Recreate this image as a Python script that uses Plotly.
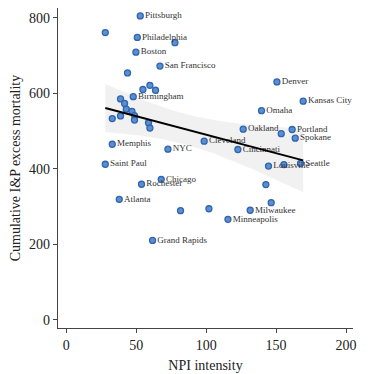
import numpy as np
import plotly.graph_objects as go

# NPI intensity vs cumulative I&P excess mortality
npi = [52.9, 27.9, 50.8, 77.7, 49.8, 67.0, 43.8, 59.8, 54.8, 63.8,
       47.9, 38.8, 41.7, 42.9, 47.0, 48.8, 38.8, 32.9, 48.8, 58.8,
       59.8, 32.9, 72.7, 27.9, 67.9, 53.8, 37.9, 81.7, 61.7, 150.6,
       169.4, 139.6, 126.5, 161.5, 153.7, 163.7, 98.6, 122.7, 144.6, 155.6,
       167.5, 142.7, 146.5, 131.5, 115.6, 102.0]
mortality = [805, 761, 748, 734, 709, 672, 654, 621, 610, 608,
             591, 585, 573, 558, 552, 541, 540, 533, 529, 522,
             508, 465, 452, 412, 372, 359, 319, 289, 210, 630,
             579, 554, 505, 504, 493, 481, 473, 451, 407, 411,
             414, 358, 310, 290, 266, 294]
city = ["Pittsburgh", "", "Philadelphia", "", "Boston", "San Francisco", "", "", "", "",
        "Birmingham", "", "", "", "", "", "", "", "", "",
        "", "Memphis", "NYC", "Saint Paul", "Chicago", "Rochester", "Atlanta", "", "Grand Rapids", "Denver",
        "Kansas City", "Omaha", "Oakland", "Portland", "", "Spokane", "Cleveland", "Cincinnati", "Louisville", "",
        "Seattle", "", "", "Milwaukee", "Minneapolis", ""]

FONT = "Liberation Serif"
AXIS_COLOR = "#444444"

# --- OLS fit with 95% confidence band ---
x = np.array(npi, dtype=float)
y = np.array(mortality, dtype=float)
slope, intercept = np.polyfit(x, y, 1)
xs = np.linspace(x.min(), x.max(), 100)
ys = intercept + slope * xs
n = len(x)
resid = y - (intercept + slope * x)
s = np.sqrt(np.sum(resid ** 2) / (n - 2))
se = s * np.sqrt(1 / n + (xs - x.mean()) ** 2 / np.sum((x - x.mean()) ** 2))
t_crit = 2.015
upper = ys + t_crit * se
lower = ys - t_crit * se

fig = go.Figure()
fig.add_trace(go.Scatter(x=np.concatenate([xs, xs[::-1]]), y=np.concatenate([upper, lower[::-1]]),
                         fill="toself", fillcolor="rgba(210,210,210,0.3)", line=dict(width=0),
                         hoverinfo="skip", showlegend=False))
fig.add_trace(go.Scatter(x=npi, y=mortality, mode="markers+text", text=city,
                         textposition="middle right",
                         textfont=dict(family=FONT, size=9, color="#333333"),
                         marker=dict(size=6, color="#5b8fd0", line=dict(color="#2f65b0", width=1.3)),
                         showlegend=False))
fig.add_trace(go.Scatter(x=xs, y=ys, mode="lines", line=dict(color="black", width=2), showlegend=False))

# page body adds an 8px margin, so the figure is sized to the visible area
fig.update_layout(
    width=366, height=366,
    margin=dict(l=50, r=21, t=0, b=46),
    plot_bgcolor="white", paper_bgcolor="white",
    font=dict(family=FONT, size=14, color="#222222"),
)
fig.update_xaxes(range=[-5.9, 205], tickvals=[0, 50, 100, 150, 200], showgrid=False, zeroline=False,
                 automargin=False,
                 showline=True, linecolor=AXIS_COLOR, linewidth=1.2, ticks="outside", ticklen=4,
                 tickcolor=AXIS_COLOR, title=dict(text="NPI intensity", font=dict(size=14), standoff=8))
fig.update_yaxes(range=[-22, 826], tickvals=[0, 200, 400, 600, 800], showgrid=False, zeroline=False,
                 automargin=False,
                 showline=True, linecolor=AXIS_COLOR, linewidth=1.2, ticks="outside", ticklen=4,
                 tickcolor=AXIS_COLOR,
                 title=dict(text="Cumulative I&amp;P excess mortality", font=dict(size=14), standoff=6))

fig.write_html("out.html")
